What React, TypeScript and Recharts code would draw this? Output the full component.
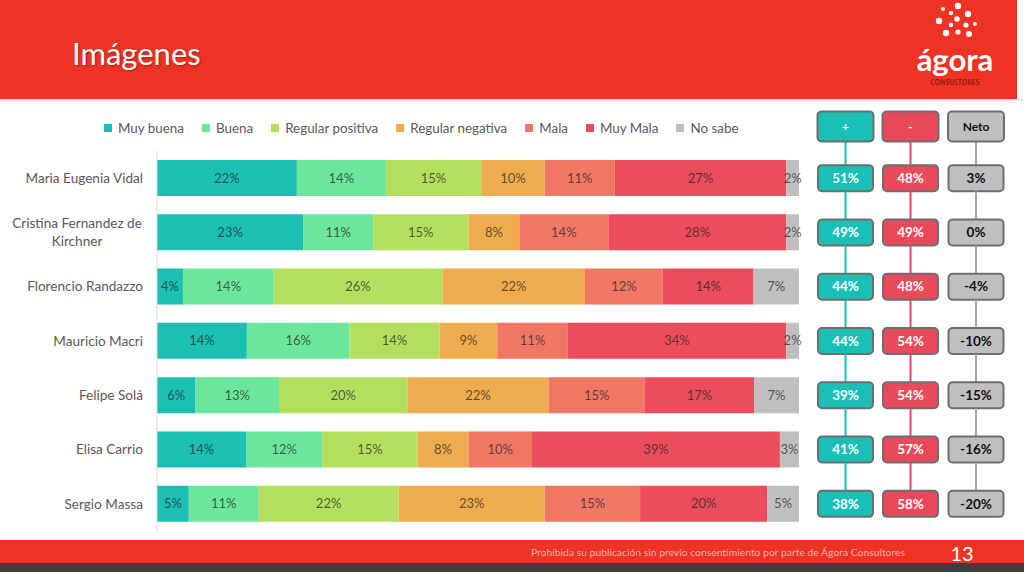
import React from "react";
import { BarChart, Bar, XAxis, YAxis, LabelList } from "recharts";

const categories = [
  "Maria Eugenia Vidal",
  "Cristina Fernandez de Kirchner",
  "Florencio Randazzo",
  "Mauricio Macri",
  "Felipe Solá",
  "Elisa Carrio",
  "Sergio Massa",
];
const seriesNames = ["Muy buena", "Buena", "Regular positiva", "Regular negativa", "Mala", "Muy Mala", "No sabe"];
const seriesKeys = ["muyBuena", "buena", "regularPositiva", "regularNegativa", "mala", "muyMala", "noSabe"];
const seriesColors = ["#1CBFB4", "#6CE69C", "#B4DF5E", "#EFAC4E", "#EF7763", "#EC4D5C", "#BFBFBF"];

const muyBuena = [22, 23, 4, 14, 6, 14, 5];
const buena = [14, 11, 14, 16, 13, 12, 11];
const regularPositiva = [15, 15, 26, 14, 20, 15, 22];
const regularNegativa = [10, 8, 22, 9, 22, 8, 23];
const mala = [11, 14, 12, 11, 15, 10, 15];
const muyMala = [27, 28, 14, 34, 17, 39, 20];
const noSabe = [2, 2, 7, 2, 7, 3, 5];

const positivo = [51, 49, 44, 44, 39, 41, 38];
const negativo = [48, 49, 48, 54, 54, 57, 58];
const neto = [3, 0, -4, -10, -15, -16, -20];
const summaryHeaders = ["+", "-", "Neto"];

const title = "Imágenes";
const footerText = "Prohibida su publicación sin previo consentimiento por parte de Ágora Consultores";
const pageNumber = "13";

const seriesValues = [muyBuena, buena, regularPositiva, regularNegativa, mala, muyMala, noSabe];
const data = categories.map((name, i) => {
  const row: any = { name };
  seriesKeys.forEach((k, s) => {
    row[k] = seriesValues[s][i];
  });
  return row;
});

const RED = "#EE3224";
const TEAL = "#1ABFB5";
const BOXRED = "#E94A5A";
const GRAY = "#BFBFBF";
const FONT = "Lato, 'Noto Sans', sans-serif";

const PLOT_TOP = 151;
const PLOT_BOTTOM = 41;
const PLOT_H = 572 - PLOT_TOP - PLOT_BOTTOM;

function wrapLabel(s: string, max: number): string[] {
  if (s.length <= max) return [s];
  const cut = s.lastIndexOf(" ", max);
  return [s.slice(0, cut), s.slice(cut + 1)];
}

const LeftTick = (props: any) => {
  const { x, y, payload } = props;
  const lines = wrapLabel(String(payload.value), 22);
  if (lines.length === 1) {
    return (
      <text x={x} y={y} dy="0.35em" textAnchor="end" fill="#595959" fontSize={13.6} fontFamily={FONT}>
        {lines[0]}
      </text>
    );
  }
  return (
    <text textAnchor="middle" fill="#595959" fontSize={13.6} fontFamily={FONT}>
      {lines.map((l, k) => (
        <tspan key={k} x={x - 66} y={y + (k - (lines.length - 1) / 2) * 18} dy="0.35em">
          {l}
        </tspan>
      ))}
    </text>
  );
};

const RightTick = (props: any) => {
  const { x, y, payload } = props;
  const i = categories.indexOf(String(payload.value));
  if (i < 0) return null;
  const step = PLOT_H / categories.length;
  const BOX_H = 26;
  const BOX_W = 55;
  const HEAD_H = 30;
  const HEAD_W = 56;
  const headY = y - step * 0.95;
  const cols = [
    { dx: 46.5, fill: TEAL, line: TEAL, txt: "#ffffff", val: positivo[i], head: summaryHeaders[0] },
    { dx: 111.5, fill: BOXRED, line: BOXRED, txt: "#ffffff", val: negativo[i], head: summaryHeaders[1] },
    { dx: 177, fill: GRAY, line: "#A6A6A6", txt: "#111111", val: neto[i], head: summaryHeaders[2] },
  ];
  return (
    <g>
      {cols.map((c, k) => {
        const cx = x + c.dx;
        const top = i === 0 ? headY + HEAD_H / 2 : y - step + BOX_H / 2;
        return (
          <g key={k}>
            <line x1={cx} x2={cx} y1={top} y2={y - BOX_H / 2} stroke={c.line} strokeWidth={2} />
            {i === 0 && (
              <g>
                <rect x={cx - HEAD_W / 2} y={headY - HEAD_H / 2} width={HEAD_W} height={HEAD_H} rx={4} fill={c.fill} stroke="#6E6E6E" strokeWidth={2} />
                <text x={cx} y={headY} dy="0.35em" textAnchor="middle" fontWeight="bold" fontSize={12} fill={c.txt} fontFamily={FONT}>
                  {c.head}
                </text>
              </g>
            )}
            <rect x={cx - BOX_W / 2} y={y - BOX_H / 2} width={BOX_W} height={BOX_H} rx={4} fill={c.fill} stroke="#6E6E6E" strokeWidth={2} />
            <text x={cx} y={y} dy="0.35em" textAnchor="middle" fontWeight="bold" fontSize={13.5} fill={c.txt} fontFamily={FONT}>
              {`${c.val}%`}
            </text>
          </g>
        );
      })}
    </g>
  );
};

const dots = [
  [958, 6, 3.2], [943, 9, 2], [951, 13, 2.2], [968, 14, 3.2], [939, 21, 3.2], [957, 19, 2.8],
  [966, 25, 2.6], [975, 24, 2], [951, 25, 2.2], [946, 33, 3.2], [958, 32, 2.6], [969, 34, 3],
];

export default function App() {
  return (
    <div style={{ position: "absolute", left: 0, top: 0, width: 1024, height: 572, background: "#ffffff", fontFamily: FONT, overflow: "hidden" }}>
      <svg width={1024} height={572} style={{ position: "absolute", left: 0, top: 0 }}>
        <rect x={0} y={0} width={1017} height={99} fill={RED} />
        <rect x={0} y={99} width={1024} height={2} fill="#E6E6E6" />
        <text x={72} y={65} fontSize={31} fill="#ffffff" fontFamily={FONT} style={{ textShadow: "1px 1px 2px rgba(0,0,0,0.35)" }}>
          {title}
        </text>
        {dots.map((d, k) => (
          <circle key={k} cx={d[0]} cy={d[1]} r={d[2]} fill="#ffffff" />
        ))}
        <text x={955} y={71} textAnchor="middle" fontSize={31} fontWeight="bold" fill="#ffffff" fontFamily={FONT}>
          ágora
        </text>
        <text x={955} y={85} textAnchor="middle" fontSize={6.5} fontWeight="bold" fill="#8A1C12" fontFamily={FONT} letterSpacing={0.3}>
          CONSULTORES
        </text>
        <rect x={0} y={540} width={1024} height={23} fill={RED} />
        <rect x={0} y={563} width={1024} height={9} fill="#3D3D3D" />
        <text x={531} y={556} fontSize={10} fill="#F6B2AA" fontFamily={FONT} textLength={374} lengthAdjust="spacingAndGlyphs">
          {footerText}
        </text>
        <text x={962} y={561} textAnchor="middle" fontSize={20} fill="#ffffff" fontFamily={FONT}>
          {pageNumber}
        </text>
      </svg>

      <div style={{ position: "absolute", left: 104, top: 119, height: 18, display: "flex", alignItems: "center" }}>
        {seriesNames.map((n, k) => (
          <div key={k} style={{ display: "flex", alignItems: "center", marginRight: 18 }}>
            <div style={{ width: 8, height: 8, background: seriesColors[k], marginRight: 6 }} />
            <span style={{ fontSize: 13.4, color: "#595959", whiteSpace: "nowrap" }}>{n}</span>
          </div>
        ))}
      </div>

      <div style={{ position: "absolute", left: 0, top: 0 }}>
        <BarChart
          width={1024}
          height={572}
          data={data}
          layout="vertical"
          stackOffset="expand"
          barSize={36}
          margin={{ top: PLOT_TOP, bottom: PLOT_BOTTOM, left: 7, right: 0 }}
        >
          <XAxis type="number" hide domain={[0, 1]} />
          <YAxis
            yAxisId="left"
            type="category"
            dataKey="name"
            width={150}
            tickLine={false}
            tickSize={0}
            tickMargin={14}
            axisLine={{ stroke: "#D9D9D9", strokeWidth: 1 }}
            tick={<LeftTick />}
            interval={0}
          />
          <YAxis
            yAxisId="right"
            orientation="right"
            type="category"
            dataKey="name"
            width={225}
            tickLine={false}
            tickSize={0}
            tickMargin={0}
            axisLine={false}
            tick={<RightTick />}
            interval={0}
          />
          {seriesKeys.map((k, s) => (
            <Bar key={k} dataKey={k} name={seriesNames[s]} stackId="a" yAxisId="left" fill={seriesColors[s]} isAnimationActive={false}>
              <LabelList
                dataKey={k}
                position="center"
                formatter={(v: any) => `${v}%`}
                fill="#262626"
                fillOpacity={0.72}
                fontSize={13}
                fontFamily={FONT}
              />
            </Bar>
          ))}
        </BarChart>
      </div>
    </div>
  );
}
